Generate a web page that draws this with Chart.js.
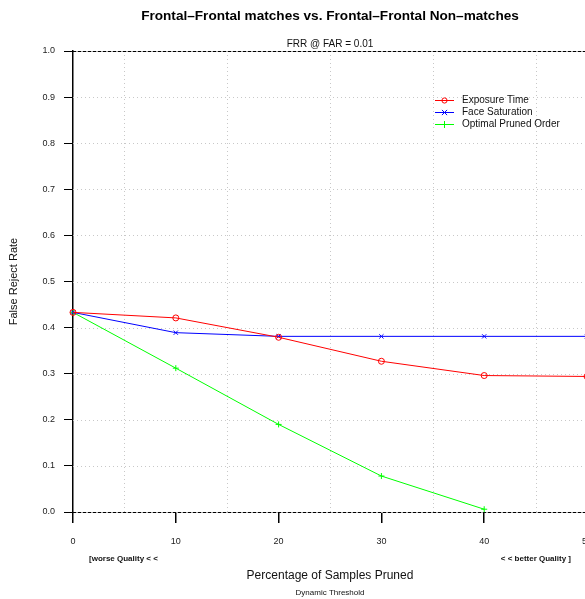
<!DOCTYPE html>
<html>
<head>
<meta charset="utf-8">
<script src="https://cdn.jsdelivr.net/npm/chart.js@4/dist/chart.umd.min.js"></script>
<style>
  html, body { margin: 0; padding: 0; background: #fff; overflow: hidden; }
  #wrap { width: 585px; height: 599px; overflow: hidden; }
  canvas { display: block; }
</style>
</head>
<body>
<div id="wrap"><canvas id="c" width="660" height="599"></canvas></div>
<script>
// data
var pruned = [0, 10, 20, 30, 40, 50];
var exposureTime = [0.433, 0.421, 0.379, 0.327, 0.296, 0.294];
var faceSaturation = [0.433, 0.389, 0.381, 0.381, 0.381, 0.381];
var optimalOrder = [0.433, 0.312, 0.190, 0.078, 0.006, null];
var seriesNames = ['Exposure Time', 'Face Saturation', 'Optimal Pruned Order'];
var yTicks = [0, 0.1, 0.2, 0.3, 0.4, 0.5, 0.6, 0.7, 0.8, 0.9, 1.0];
var minorX = [5, 15, 25, 35, 45];

var titleText = 'Frontal\u2013Frontal matches vs. Frontal\u2013Frontal Non\u2013matches';
var subtitleText = 'FRR @ FAR = 0.01';

var FONT = "'Liberation Sans', Arial, Helvetica, sans-serif";

function pts(ys) {
  var out = [];
  for (var i = 0; i < pruned.length; i++) {
    if (ys[i] !== null) out.push({ x: pruned[i], y: ys[i] });
  }
  return out;
}

function series(label, ys, color, style) {
  return {
    label: label,
    data: pts(ys),
    borderColor: color,
    backgroundColor: color,
    borderWidth: 1,
    pointStyle: style,
    pointRadius: 3,
    pointBorderWidth: 1,
    pointBorderColor: color,
    pointBackgroundColor: 'rgba(0,0,0,0)',
    tension: 0,
    clip: false
  };
}

// grid, dashed frame lines, titles, legend and the extra labels
var decor = {
  id: 'decor',
  beforeDatasetsDraw: function(chart) {
    var ctx = chart.ctx, a = chart.chartArea;
    var xs = chart.scales.x, ys = chart.scales.y;
    ctx.save();
    ctx.strokeStyle = '#c8c8c8';
    ctx.lineWidth = 1;
    ctx.setLineDash([1, 3]);
    minorX.forEach(function(v) {
      var px = Math.round(xs.getPixelForValue(v)) + 0.5;
      ctx.beginPath(); ctx.moveTo(px, a.top); ctx.lineTo(px, a.bottom); ctx.stroke();
    });
    yTicks.slice(1, -1).forEach(function(v) {
      var py = Math.round(ys.getPixelForValue(v)) + 0.5;
      ctx.beginPath(); ctx.moveTo(a.left, py); ctx.lineTo(a.right + 80, py); ctx.stroke();
    });
    ctx.setLineDash([]);
    ctx.strokeStyle = '#b0b0b0';
    [0, 1].forEach(function(v) {
      var py = Math.round(ys.getPixelForValue(v)) + 0.5;
      ctx.beginPath(); ctx.moveTo(a.left, py); ctx.lineTo(a.right + 80, py); ctx.stroke();
    });
    ctx.strokeStyle = '#000';
    ctx.setLineDash([3, 2]);
    [0, 1].forEach(function(v) {
      var py = Math.round(ys.getPixelForValue(v)) + 0.5;
      ctx.beginPath(); ctx.moveTo(a.left, py); ctx.lineTo(a.right + 80, py); ctx.stroke();
    });
    ctx.restore();
  },
  afterDraw: function(chart) {
    var ctx = chart.ctx, a = chart.chartArea;
    var mid = (a.left + a.right) / 2;
    ctx.save();
    // titles, centred over the plot region
    ctx.fillStyle = '#000';
    ctx.textAlign = 'center';
    ctx.textBaseline = 'middle';
    ctx.font = 'bold 13.6px ' + FONT;
    ctx.fillText(titleText, mid, 16);
    ctx.fillStyle = '#111';
    ctx.font = '10px ' + FONT;
    ctx.fillText(subtitleText, mid, 44);
    // legend
    var lx = 435, ly = 100, step = 12;
    chart.data.datasets.forEach(function(ds, i) {
      var y = ly + i * step + 0.5;
      ctx.strokeStyle = ds.borderColor;
      ctx.lineWidth = 1;
      ctx.beginPath(); ctx.moveTo(lx, y); ctx.lineTo(lx + 19, y); ctx.stroke();
      var cx = lx + 9.5, r = 2.6;
      ctx.beginPath();
      if (ds.pointStyle === 'circle') {
        ctx.arc(cx, y, r, 0, Math.PI * 2);
      } else if (ds.pointStyle === 'crossRot') {
        ctx.moveTo(cx - r, y - r); ctx.lineTo(cx + r, y + r);
        ctx.moveTo(cx - r, y + r); ctx.lineTo(cx + r, y - r);
      } else {
        ctx.moveTo(cx - 3.5, y); ctx.lineTo(cx + 3.5, y);
        ctx.moveTo(cx, y - 3.5); ctx.lineTo(cx, y + 3.5);
      }
      ctx.stroke();
      ctx.fillStyle = '#111';
      ctx.font = '10px ' + FONT;
      ctx.textAlign = 'left';
      ctx.textBaseline = 'middle';
      ctx.fillText(ds.label, lx + 27, y);
    });
    // quality hints and sub caption
    ctx.fillStyle = '#111';
    ctx.font = 'bold 8px ' + FONT;
    ctx.textBaseline = 'middle';
    ctx.textAlign = 'left';
    ctx.fillText('[worse Quality < <', a.left + 16, 559);
    ctx.textAlign = 'right';
    ctx.fillText('< < better Quality ]', a.right - 16, 559);
    ctx.font = '8px ' + FONT;
    ctx.textAlign = 'center';
    ctx.fillText('Dynamic Threshold', mid, 593);
    ctx.restore();
  }
};

new Chart(document.getElementById('c'), {
  type: 'line',
  data: {
    datasets: [
      series(seriesNames[0], exposureTime, '#ff0000', 'circle'),
      series(seriesNames[1], faceSaturation, '#0000ff', 'crossRot'),
      series(seriesNames[2], optimalOrder, '#00ff00', 'cross')
    ]
  },
  options: {
    responsive: false,
    animation: false,
    events: [],
    layout: { padding: { left: 0, right: 73, top: 51, bottom: 0 } },
    plugins: {
      legend: { display: false },
      tooltip: { enabled: false },
      title: { display: false },
      subtitle: { display: false }
    },
    scales: {
      x: {
        type: 'linear',
        min: 0,
        max: 50,
        afterFit: function(s) { s.height = 87; },
        afterBuildTicks: function(s) { s.ticks = pruned.map(function(v) { return { value: v }; }); },
        ticks: { color: '#222', font: { family: FONT, size: 9 }, padding: 13, maxRotation: 0 },
        grid: { drawOnChartArea: false, drawTicks: true, tickLength: 11, color: '#000', lineWidth: 1.5 },
        border: { display: false },
        title: {
          display: true,
          text: 'Percentage of Samples Pruned',
          color: '#111',
          font: { family: FONT, size: 12 },
          padding: { top: 0, bottom: 16 }
        }
      },
      y: {
        min: 0,
        max: 1,
        afterFit: function(s) { s.width = 73; },
        afterBuildTicks: function(s) { s.ticks = yTicks.map(function(v) { return { value: v }; }); },
        ticks: {
          color: '#222',
          font: { family: FONT, size: 9 },
          padding: 9,
          callback: function(v) { return Number(v).toFixed(1); }
        },
        grid: { drawOnChartArea: false, drawTicks: true, tickLength: 9, color: '#000', lineWidth: 1 },
        border: { display: true, color: '#000', width: 1.5 },
        title: {
          display: true,
          text: 'False Reject Rate',
          color: '#111',
          font: { family: FONT, size: 11 },
          padding: { top: 7, bottom: 0 }
        }
      }
    }
  },
  plugins: [decor]
});
</script>
</body>
</html>
